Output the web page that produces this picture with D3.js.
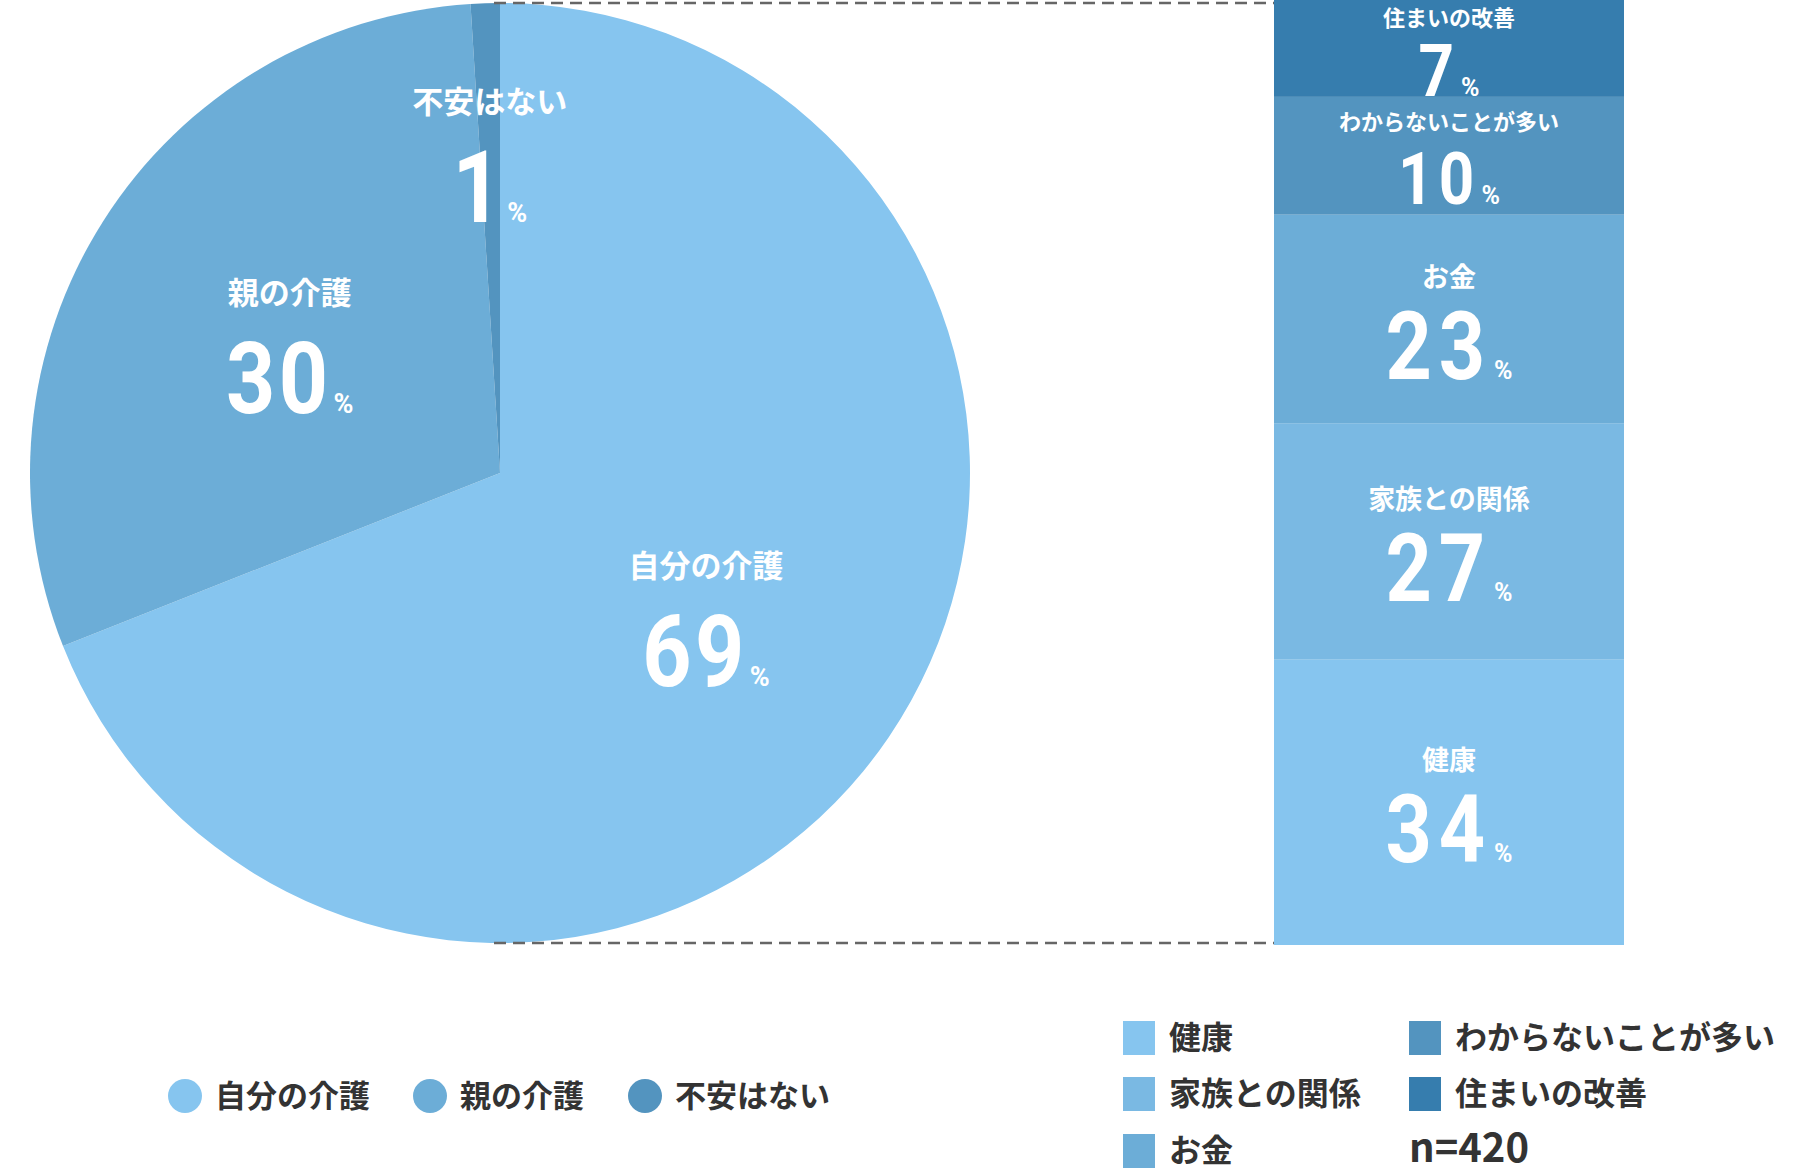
<!DOCTYPE html>
<html>
<head>
<meta charset="utf-8">
<script src="https://cdn.jsdelivr.net/npm/d3@7"></script>
<style>
  body { margin: 0; background: #fff; }
  text { font-family: "Noto Sans CJK JP", "Noto Sans", sans-serif; font-weight: 700; }
  .num { font-family: Roboto, "Liberation Sans", sans-serif; font-weight: 700; }
</style>
</head>
<body>
<div id="chart"></div>
<script>
// data
var pieLabels = ["自分の介護", "親の介護", "不安はない"];
var pieValues = [69, 30, 1];
var pieColors = ["#86c5ef", "#6cadd7", "#5394bf"];

// stacked bar, listed bottom to top
var barLabels = ["健康", "家族との関係", "お金", "わからないことが多い", "住まいの改善"];
var barValues = [34, 27, 23, 10, 7];
var barColors = ["#86c5ef", "#7ab9e3", "#6cadd7", "#5394bf", "#367dae"];

var sampleSize = 420;

// layout
var width = 1800, height = 1173;
var pieCx = 500, pieCy = 473, pieR = 470;
var barX = 1274, barW = 350, barTop = 0, barBottom = 945;
var blockPad = 48; // every block keeps room for its label
var numStretch = 0.86; // condensed look for the big figures

var svg = d3.select("#chart")
    .append("svg")
    .attr("width", width)
    .attr("height", height);

// ---- pie ----
var pieData = pieLabels.map(function(l, i) {
    return { label: l, value: pieValues[i], color: pieColors[i] };
});

var pie = d3.pie().sort(null).value(function(d) { return d.value; });
var arc = d3.arc().innerRadius(0).outerRadius(pieR);
var arcs = pie(pieData);

var pieG = svg.append("g").attr("transform", "translate(" + pieCx + "," + pieCy + ")");

pieG.selectAll("path.slice")
    .data(arcs)
    .enter()
    .append("path")
    .attr("class", "slice")
    .attr("d", arc)
    .attr("fill", function(d) { return d.data.color; });

// dashed guide lines from pie to bar
[pieCy - pieR, pieCy + pieR].forEach(function(y) {
    svg.append("line")
        .attr("x1", pieCx - 6)
        .attr("x2", barX)
        .attr("y1", y)
        .attr("y2", y)
        .attr("stroke", "#666")
        .attr("stroke-width", 2.5)
        .attr("stroke-dasharray", "12 7");
});

// big number + small "%" centred on x
function pctText(g, x, y, value, numSize, pctSize, spacing) {
    var grp = g.append("g");
    var num = grp.append("text")
        .attr("class", "num")
        .attr("font-size", numSize)
        .attr("letter-spacing", spacing)
        .attr("fill", "#fff")
        .text(value);
    var pct = grp.append("text")
        .attr("class", "num")
        .attr("font-size", pctSize)
        .attr("fill", "#fff")
        .text("%");
    var nw = num.node().getComputedTextLength() * numStretch;
    var pw = pct.node().getComputedTextLength();
    var gap = 2;
    var left = x - (nw + gap + pw) / 2;
    num.attr("transform", "translate(" + left + "," + y + ") scale(" + numStretch + ",1)");
    pct.attr("x", left + nw + gap).attr("y", y);
}

arcs.forEach(function(d) {
    var mid = (d.startAngle + d.endAngle) / 2;
    var share = (d.endAngle - d.startAngle) / (2 * Math.PI);
    var r = share < 0.05 ? pieR * 0.69 : pieR * 0.53;
    var cx = Math.sin(mid) * r;
    var cy = -Math.cos(mid) * r;
    pieG.append("text")
        .attr("x", cx)
        .attr("y", cy - 36)
        .attr("text-anchor", "middle")
        .attr("fill", "#fff")
        .attr("font-size", 31)
        .text(d.data.label);
    pctText(pieG, cx, cy + 73, d.data.value, 100, 27, 4);
});

// ---- stacked bar ----
var total = d3.sum(barValues);
var unit = d3.scaleLinear()
    .domain([0, total])
    .range([0, (barBottom - barTop) - barValues.length * blockPad]);

var y0 = barBottom;
var blocks = barValues.map(function(v, i) {
    var h = blockPad + unit(v);
    var b = { label: barLabels[i], value: v, color: barColors[i], y: y0 - h, h: h };
    y0 -= h;
    return b;
});

svg.selectAll("rect.block")
    .data(blocks)
    .enter()
    .append("rect")
    .attr("class", "block")
    .attr("x", barX)
    .attr("width", barW)
    .attr("y", function(d) { return d.y; })
    .attr("height", function(d) { return d.h; })
    .attr("fill", function(d) { return d.color; });

var barCx = barX + barW / 2;
blocks.forEach(function(d) {
    var c = d.y + d.h / 2;
    var big = d.h > 150;
    svg.append("text")
        .attr("x", barCx)
        .attr("y", big ? c - 32 : Math.max(c - 26, d.y + 26))
        .attr("text-anchor", "middle")
        .attr("fill", "#fff")
        .attr("font-size", big ? 27 : 22)
        .text(d.label);
    pctText(svg, barCx, big ? c + 60 : c + 48, d.value, big ? 94 : 72, 25, big ? 8 : 6);
});

// ---- legends ----
var pieLeg = svg.append("g").attr("transform", "translate(0,1096)");
var pieLegX = [185, 430, 645];
pieData.forEach(function(d, i) {
    pieLeg.append("circle")
        .attr("cx", pieLegX[i])
        .attr("cy", 0)
        .attr("r", 17)
        .attr("fill", d.color);
    pieLeg.append("text")
        .attr("x", pieLegX[i] + 30)
        .attr("y", 11)
        .attr("fill", "#333")
        .attr("font-size", 31)
        .text(d.label);
});

// bar legend: two columns, three rows
var legCols = [1123, 1409];
var legRows = [1038, 1094, 1151];
blocks.forEach(function(d, i) {
    var col = i < 3 ? 0 : 1;
    var row = i < 3 ? i : i - 3;
    var x = legCols[col], y = legRows[row];
    svg.append("rect")
        .attr("x", x)
        .attr("y", y - 17)
        .attr("width", 32)
        .attr("height", 34)
        .attr("fill", d.color);
    svg.append("text")
        .attr("x", x + 46)
        .attr("y", y + 11)
        .attr("fill", "#333")
        .attr("font-size", 32)
        .text(d.label);
});

svg.append("text")
    .attr("x", legCols[1])
    .attr("y", legRows[2] + 11)
    .attr("fill", "#333")
    .attr("font-size", 40)
    .text("n=" + sampleSize);
</script>
</body>
</html>
